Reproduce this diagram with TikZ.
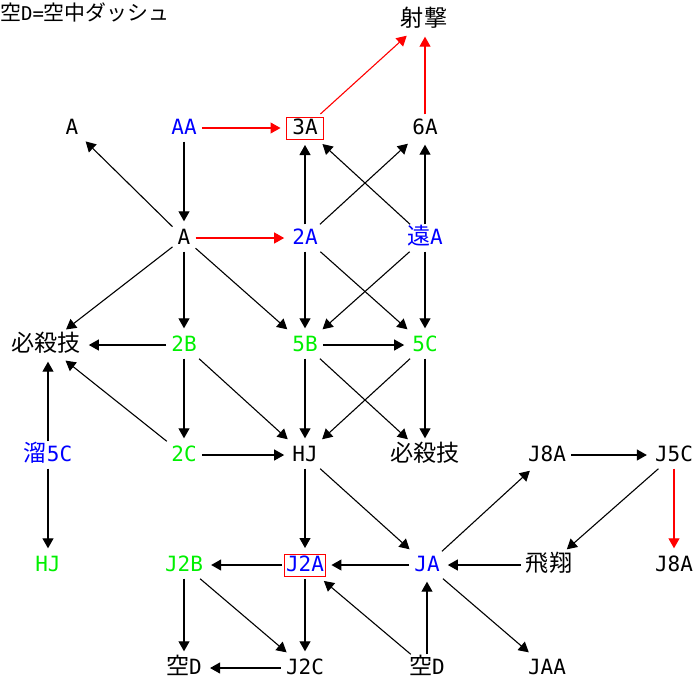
\documentclass[tikz,border=0pt]{standalone}
\usepackage{fontspec}
\setmainfont{DejaVu Sans Mono}
\newfontfamily\jp[Scale=1.1]{Noto Sans CJK JP}
\definecolor{cblue}{RGB}{0,0,255}
\definecolor{cgreen}{RGB}{0,240,0}
\definecolor{cred}{RGB}{255,0,0}
\usetikzlibrary{arrows.meta}
\begin{document}
\begin{tikzpicture}[x=1pt,y=-1pt,
  lbl/.style={font=\fontsize{21}{24}\selectfont, text height=15pt, text depth=2pt, inner xsep=5pt, inner ysep=5pt},
  bl/.style={lbl, text=cblue},
  gr/.style={lbl, text=cgreen},
  rbox/.style={lbl, draw=cred, line width=1pt, inner xsep=1.5pt, inner ysep=2.5pt, outer sep=3pt},
  arr/.style={-{Triangle[length=10pt,width=11pt]}, line width=1.1pt, shorten >=3pt},
  rarr/.style={arr, draw=cred}
]
\useasboundingbox[fill=white] (0,0) rectangle (695,688);
\node[lbl, font=\fontsize{19}{22}\selectfont, anchor=west, inner sep=0pt] (title) at (0,14) {{\jp 空}D={\jp 空中ダッシュ}};
\node[lbl] (sj) at (424,20) {\jp 射撃};
\node[lbl] (aL) at (72,128) {A};
\node[bl] (aa) at (184,128) {AA};
\node[rbox, minimum width=37pt] (a3) at (305,128) {3A};
\node[lbl] (a6) at (425,128) {6A};
\node[lbl] (ac) at (184,238) {A};
\node[bl] (a2) at (305,238) {2A};
\node[bl] (enA) at (425,238) {{\jp 遠}A};
\node[lbl] (hL) at (46,345) {\jp 必殺技};
\node[gr] (b2) at (184,345) {2B};
\node[gr] (b5) at (305,345) {5B};
\node[gr] (c5) at (425,345) {5C};
\node[bl] (tc) at (48,455) {{\jp 溜}5C};
\node[gr] (c2) at (184,455) {2C};
\node[lbl] (hj) at (305,455) {HJ};
\node[lbl] (hM) at (425,455) {\jp 必殺技};
\node[lbl] (j8) at (547,455) {J8A};
\node[lbl] (j5) at (674,455) {J5C};
\node[gr] (hjg) at (48,565) {HJ};
\node[gr] (j2b) at (184,565) {J2B};
\node[rbox, text=cblue] (j2a) at (305,565) {J2A};
\node[bl] (ja) at (427,565) {JA};
\node[lbl] (hs) at (549,565) {\jp 飛翔};
\node[lbl] (j8r) at (674,565) {J8A};
\node[lbl] (kL) at (184,668) {{\jp 空}D};
\node[lbl] (j2c) at (305,668) {J2C};
\node[lbl] (kR) at (427,668) {{\jp 空}D};
\node[lbl] (jaa) at (547,668) {JAA};
% red connectors
\draw[rarr] (aa) -- (a3);
\draw[rarr] (a3) -- (sj);
\draw[rarr] (a6.north) -- (a6.north |- sj.south);
\draw[rarr] (ac) -- (a2);
\draw[rarr] (j5) -- (j8r);
% black connectors
\draw[arr] (ac) -- (aL);
\draw[arr] (aa) -- (ac);
\draw[arr] (ac) -- (hL);
\draw[arr] (ac) -- (b2);
\draw[arr] (ac) -- (b5);
\draw[arr] (a2) -- (a3);
\draw[arr] (a2) -- (a6);
\draw[arr] (a2) -- (b5);
\draw[arr] (a2) -- (c5);
\draw[arr] (enA) -- (a3);
\draw[arr] (enA) -- (a6);
\draw[arr] (enA) -- (b5);
\draw[arr] (enA) -- (c5);
\draw[arr] (b2) -- (hL);
\draw[arr] (b2) -- (c2);
\draw[arr] (b2) -- (hj);
\draw[arr] (b5) -- (c5);
\draw[arr] (b5) -- (hj);
\draw[arr] (b5) -- (hM);
\draw[arr] (c5) -- (hj);
\draw[arr] (c5) -- (hM);
\draw[arr] (c2) -- (hL);
\draw[arr] (c2) -- (hj);
\draw[arr] (tc.north) -- (tc.north |- hL.south);
\draw[arr] (tc) -- (hjg);
\draw[arr] (hj) -- (j2a);
\draw[arr] (hj) -- (ja);
\draw[arr] (ja) -- (j8);
\draw[arr] (j8) -- (j5);
\draw[arr] (j5) -- (hs);
\draw[arr] (hs) -- (ja);
\draw[arr] (ja) -- (j2a);
\draw[arr] (ja) -- (jaa);
\draw[arr] (j2a) -- (j2b);
\draw[arr] (j2a) -- (j2c);
\draw[arr] (j2b) -- (kL);
\draw[arr] (j2b) -- (j2c);
\draw[arr] (j2c) -- (kL);
\draw[arr] (kR) -- (j2a);
\draw[arr] (kR) -- (ja);
\end{tikzpicture}
\end{document}
